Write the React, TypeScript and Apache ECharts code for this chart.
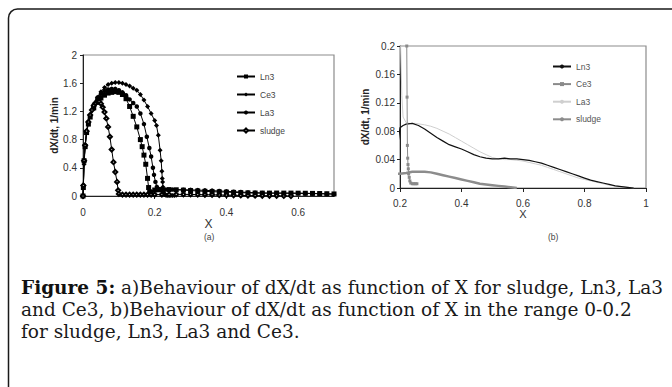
import React, { useEffect, useRef } from "react";
import * as echarts from "echarts";

// ---- Data (X, dX/dt) ----
const LN3: number[][] = [
  [0, 0], [0.001, 0.12], [0.003, 0.5], [0.006, 0.7], [0.01, 0.9], [0.015, 1.02], [0.02, 1.12],
  [0.03, 1.25], [0.04, 1.33], [0.05, 1.39], [0.06, 1.43], [0.07, 1.46], [0.08, 1.47], [0.09, 1.48],
  [0.1, 1.47], [0.11, 1.44], [0.12, 1.38], [0.13, 1.27], [0.14, 1.13], [0.15, 0.98], [0.16, 0.8],
  [0.165, 0.7], [0.17, 0.58], [0.175, 0.45], [0.18, 0.25], [0.183, 0.12], [0.186, 0.06], [0.19, 0.05],
  [0.2, 0.085], [0.21, 0.088], [0.22, 0.09], [0.24, 0.091], [0.26, 0.088], [0.28, 0.083], [0.3, 0.077],
  [0.32, 0.071], [0.34, 0.066], [0.36, 0.061], [0.38, 0.058], [0.4, 0.055], [0.42, 0.051], [0.44, 0.047],
  [0.46, 0.044], [0.48, 0.042], [0.5, 0.041], [0.52, 0.041], [0.54, 0.042], [0.56, 0.041], [0.58, 0.041],
  [0.6, 0.04], [0.62, 0.039], [0.64, 0.037], [0.66, 0.035], [0.68, 0.032], [0.7, 0.029], [0.72, 0.026],
  [0.74, 0.023], [0.76, 0.02], [0.78, 0.017], [0.8, 0.014], [0.82, 0.011], [0.84, 0.009], [0.86, 0.007],
  [0.88, 0.005], [0.9, 0.003], [0.92, 0.002], [0.94, 0.001], [0.96, 0],
];

const CE3: number[][] = [
  [0, 0], [0.001, 0.15], [0.003, 0.45], [0.006, 0.7], [0.01, 0.9], [0.015, 1.05], [0.02, 1.15],
  [0.03, 1.3], [0.04, 1.4], [0.05, 1.48], [0.06, 1.54], [0.07, 1.58], [0.08, 1.6], [0.09, 1.61],
  [0.1, 1.61], [0.11, 1.6], [0.12, 1.58], [0.13, 1.56], [0.14, 1.53], [0.15, 1.5], [0.16, 1.44],
  [0.17, 1.36], [0.18, 1.27], [0.19, 1.17], [0.2, 1.07], [0.205, 1.0], [0.21, 0.86], [0.215, 0.65],
  [0.218, 0.5], [0.22, 0.35], [0.221, 0.25], [0.222, 0.2], [0.223, 0.128], [0.224, 0.06], [0.225, 0.042],
  [0.226, 0.033], [0.227, 0.027], [0.228, 0.02], [0.23, 0.015], [0.232, 0.01], [0.235, 0.007],
  [0.24, 0.006], [0.245, 0.006], [0.25, 0.006], [0.255, 0.006],
];

const LA3: number[][] = [
  [0, 0], [0.001, 0.15], [0.003, 0.5], [0.006, 0.72], [0.01, 0.92], [0.015, 1.05], [0.02, 1.14],
  [0.03, 1.28], [0.04, 1.38], [0.05, 1.45], [0.06, 1.49], [0.07, 1.51], [0.08, 1.52], [0.09, 1.52],
  [0.1, 1.5], [0.11, 1.47], [0.12, 1.43], [0.13, 1.37], [0.14, 1.32], [0.15, 1.27], [0.16, 1.17],
  [0.17, 1.02], [0.178, 0.84], [0.185, 0.68], [0.19, 0.56], [0.195, 0.4], [0.198, 0.3], [0.202, 0.2],
  [0.206, 0.13], [0.21, 0.1], [0.22, 0.092], [0.23, 0.091], [0.25, 0.091], [0.28, 0.089], [0.3, 0.087],
  [0.32, 0.084], [0.34, 0.08], [0.36, 0.076], [0.38, 0.071], [0.4, 0.066], [0.42, 0.061], [0.44, 0.056],
  [0.46, 0.051], [0.48, 0.047], [0.5, 0.043], [0.52, 0.041], [0.54, 0.04], [0.56, 0.04], [0.58, 0.039],
  [0.6, 0.038], [0.62, 0.036], [0.64, 0.034], [0.66, 0.032], [0.68, 0.029], [0.7, 0.026], [0.72, 0.023],
  [0.74, 0.02], [0.76, 0.017], [0.78, 0.014], [0.8, 0.012], [0.82, 0.01], [0.84, 0.008], [0.86, 0.006],
  [0.88, 0.004], [0.9, 0.003], [0.92, 0.002], [0.94, 0.001], [0.96, 0],
];

const SLUDGE: number[][] = [
  [0, 0], [0.001, 0.15], [0.003, 0.5], [0.006, 0.72], [0.01, 0.92], [0.015, 1.05], [0.02, 1.15],
  [0.025, 1.22], [0.03, 1.28], [0.035, 1.32], [0.04, 1.34], [0.045, 1.34], [0.05, 1.31], [0.055, 1.26],
  [0.06, 1.19], [0.065, 1.1], [0.07, 0.98], [0.075, 0.84], [0.08, 0.66], [0.085, 0.48], [0.09, 0.34],
  [0.095, 0.2], [0.098, 0.08], [0.1, 0.03], [0.11, 0.02], [0.12, 0.02], [0.13, 0.02], [0.14, 0.02],
  [0.15, 0.02], [0.16, 0.02], [0.17, 0.02], [0.18, 0.02], [0.19, 0.02], [0.2, 0.02], [0.22, 0.021],
  [0.24, 0.023], [0.26, 0.023], [0.28, 0.023], [0.3, 0.022], [0.32, 0.02], [0.34, 0.018], [0.36, 0.016],
  [0.38, 0.014], [0.4, 0.012], [0.42, 0.01], [0.44, 0.008], [0.46, 0.006], [0.48, 0.005], [0.5, 0.004],
  [0.52, 0.003], [0.54, 0.002], [0.56, 0.001], [0.58, 0],
];

const SERIES_NAMES = ["Ln3", "Ce3", "La3", "sludge"];
const B_SUFFIX = " (b)";

const Y_NAME = "dX/dt, 1/min";
const X_NAME = "X";
const CAPTION_BOLD = "Figure 5:";
const CAPTION_LINES = [
  " a)Behaviour of dX/dt as function of X for sludge, Ln3, La3",
  "and Ce3, b)Behaviour of dX/dt as function of X in the range 0-0.2",
  "for sludge, Ln3, La3 and Ce3.",
];

const SANS = "'Liberation Sans', Arial, sans-serif";
const SERIF = "'DejaVu Serif', serif";

export default function App() {
  const ref = useRef<HTMLDivElement>(null);

  useEffect(() => {
    if (!ref.current) return;
    const chart = echarts.init(ref.current, null, { renderer: "svg" });

    const axisLabel = { fontSize: 10, color: "#333", fontFamily: SANS };
    const axisLine = { show: true, lineStyle: { color: "#222", width: 1 } };

    const option: any = {
      animation: false,
      backgroundColor: "#fff",
      grid: [
        { left: 83, top: 55, width: 251, height: 141, show: true, borderColor: "#8c8c8c", borderWidth: 1.2, backgroundColor: "transparent" },
        { left: 400, top: 46, width: 246, height: 142, show: true, borderColor: "#8c8c8c", borderWidth: 1.2, backgroundColor: "transparent" },
      ],
      xAxis: [
        {
          type: "value", gridIndex: 0, min: 0, max: 0.7, interval: 0.2,
          axisLine, axisTick: { show: true, length: 3, lineStyle: { color: "#222" } },
          axisLabel: { ...axisLabel, margin: 11, showMaxLabel: false },
          splitLine: { show: false },
          name: X_NAME, nameLocation: "middle", nameGap: 22,
          nameTextStyle: { fontSize: 12, color: "#333", fontFamily: SANS },
        },
        {
          type: "value", gridIndex: 1, min: 0.2, max: 1, interval: 0.2,
          axisLine, axisTick: { show: true, length: 4, lineStyle: { color: "#222" } },
          axisLabel: { ...axisLabel, margin: 10 },
          splitLine: { show: false },
          name: X_NAME, nameLocation: "middle", nameGap: 20,
          nameTextStyle: { fontSize: 11, color: "#333", fontFamily: SANS },
        },
      ],
      yAxis: [
        {
          type: "value", gridIndex: 0, min: 0, max: 2, interval: 0.4,
          axisLine, axisTick: { show: true, length: 3, lineStyle: { color: "#222" } },
          axisLabel: { ...axisLabel, margin: 6 },
          splitLine: { show: false },
          name: Y_NAME, nameLocation: "middle", nameGap: 12, nameRotate: 90,
          nameTextStyle: { fontSize: 10, fontWeight: "bold", color: "#222", fontFamily: SANS },
        },
        {
          type: "value", gridIndex: 1, min: 0, max: 0.2, interval: 0.04,
          axisLine, axisTick: { show: true, length: 3, lineStyle: { color: "#222" } },
          axisLabel: { ...axisLabel, margin: 5 },
          splitLine: { show: false },
          name: Y_NAME, nameLocation: "middle", nameGap: 30, nameRotate: 90,
          nameTextStyle: { fontSize: 10, fontWeight: "bold", color: "#222", fontFamily: SANS },
        },
      ],
      legend: [
        {
          data: SERIES_NAMES, orient: "vertical", left: 231, top: 67,
          itemWidth: 18, itemHeight: 5, itemGap: 9,
          textStyle: { fontSize: 8.5, color: "#444", fontFamily: SANS },
          selectedMode: false,
        },
        {
          data: SERIES_NAMES.map((n) => n + B_SUFFIX), orient: "vertical", left: 547, top: 57,
          itemWidth: 18, itemHeight: 5, itemGap: 8.6,
          formatter: (n: string) => n.replace(B_SUFFIX, ""),
          textStyle: { fontSize: 8.5, color: "#555", fontFamily: SANS },
          selectedMode: false,
        },
      ],
      series: [
        { name: "Ln3", type: "line", xAxisIndex: 0, yAxisIndex: 0, data: LN3, symbol: "rect", symbolSize: 5, lineStyle: { color: "#000", width: 1 }, itemStyle: { color: "#000" }, clip: true },
        { name: "Ce3", type: "line", xAxisIndex: 0, yAxisIndex: 0, data: CE3, symbol: "diamond", symbolSize: 5, lineStyle: { color: "#000", width: 1 }, itemStyle: { color: "#000" }, clip: true },
        { name: "La3", type: "line", xAxisIndex: 0, yAxisIndex: 0, data: LA3, symbol: "circle", symbolSize: 4.5, lineStyle: { color: "#000", width: 1 }, itemStyle: { color: "#000" }, clip: true },
        { name: "sludge", type: "line", xAxisIndex: 0, yAxisIndex: 0, data: SLUDGE, symbol: "emptyDiamond", symbolSize: 4, lineStyle: { color: "#000", width: 1 }, itemStyle: { color: "#000", borderColor: "#000", borderWidth: 0.8 }, clip: true },

        { name: "La3" + B_SUFFIX, type: "line", xAxisIndex: 1, yAxisIndex: 1, data: LA3, symbol: "none", lineStyle: { color: "#cfcfcf", width: 1 }, itemStyle: { color: "#cfcfcf" }, clip: true },
        { name: "sludge" + B_SUFFIX, type: "line", xAxisIndex: 1, yAxisIndex: 1, data: SLUDGE, symbol: "none", lineStyle: { color: "#8c8c8c", width: 2.5 }, itemStyle: { color: "#8c8c8c" }, clip: true },
        { name: "Ln3" + B_SUFFIX, type: "line", xAxisIndex: 1, yAxisIndex: 1, data: LN3, symbol: "none", lineStyle: { color: "#111", width: 1.2 }, itemStyle: { color: "#111" }, clip: true },
        { name: "Ce3" + B_SUFFIX, type: "line", xAxisIndex: 1, yAxisIndex: 1, data: CE3, symbol: "rect", symbolSize: 3, lineStyle: { color: "#8a8a8a", width: 1 }, itemStyle: { color: "#8a8a8a" }, clip: true },
      ],
      graphic: [
        {
          type: "rect", silent: true, z: 100,
          shape: { x: 8.5, y: 9, width: 720, height: 420, r: 9 },
          style: { fill: "none", stroke: "#1a1a1a", lineWidth: 1.5 },
        },
        {
          type: "text", left: 204, top: 232,
          style: { text: "(a)", fontSize: 8.5, fill: "#444", fontFamily: SANS },
        },
        {
          type: "text", left: 548, top: 232,
          style: { text: "(b)", fontSize: 8.5, fill: "#444", fontFamily: SANS },
        },
        {
          type: "text", x: 21, y: 276,
          style: {
            text: "{b|" + CAPTION_BOLD + "}" + CAPTION_LINES.join("\n"),
            fontSize: 18.5, lineHeight: 22, fill: "#1a1a1a", fontFamily: SERIF,
            verticalAlign: "top",
            rich: {
              b: { fontSize: 18.5, lineHeight: 22, fontWeight: "bold", fill: "#111", fontFamily: SERIF },
            },
          },
        },
      ],
    };

    chart.setOption(option);
    return () => chart.dispose();
  }, []);

  return (
    <div
      ref={ref}
      style={{ position: "absolute", left: 0, top: 0, width: 672, height: 387 }}
    />
  );
}
